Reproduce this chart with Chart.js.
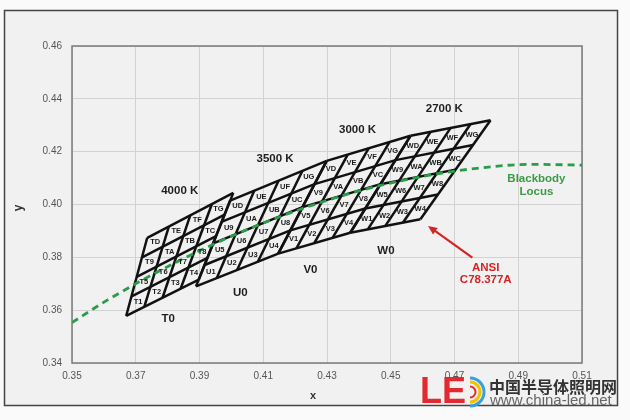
<!DOCTYPE html>
<html lang="zh">
<head>
<meta charset="UTF-8">
<title>ANSI C78.377A</title>
<script src="https://cdn.jsdelivr.net/npm/chart.js"></script>
<style>
    body { margin: 0; background: #fafafa; }
    .box { width: 630px; height: 420px; position: relative; }
</style>
</head>
<body>
<div class="box"><canvas id="ansiChart"></canvas></div>
<script>
    // axis ticks
    const xTicks = [0.35, 0.37, 0.39, 0.41, 0.43, 0.45, 0.47, 0.49, 0.51];
    const yTicks = [0.34, 0.36, 0.38, 0.40, 0.42, 0.44, 0.46];

    // 4000 K quadrangle (T bins), edge division points
    const tTop    = [[0.3736, 0.3874], [0.3804, 0.3917], [0.3871, 0.3959], [0.3939, 0.4002], [0.4006, 0.4044]];
    const tBottom = [[0.3670, 0.3578], [0.3727, 0.3613], [0.3784, 0.3647], [0.3841, 0.3682], [0.3898, 0.3716]];
    const tLeft   = [[0.3670, 0.3578], [0.3687, 0.3652], [0.3703, 0.3726], [0.3720, 0.3800], [0.3736, 0.3874]];
    const tRight  = [[0.3898, 0.3716], [0.3925, 0.3798], [0.3952, 0.3880], [0.3979, 0.3962], [0.4006, 0.4044]];

    // 3500 K quadrangle (U bins)
    const uTop    = [[0.3996, 0.4015], [0.4072, 0.4053], [0.4148, 0.4090], [0.4223, 0.4128], [0.4299, 0.4165]];
    const uBottom = [[0.3889, 0.3690], [0.3954, 0.3721], [0.4018, 0.3752], [0.4083, 0.3783], [0.4147, 0.3814]];
    const uLeft   = [[0.3889, 0.3690], [0.3916, 0.3771], [0.3943, 0.3853], [0.3969, 0.3934], [0.3996, 0.4015]];
    const uRight  = [[0.4147, 0.3814], [0.4185, 0.3902], [0.4223, 0.3990], [0.4261, 0.4077], [0.4299, 0.4165]];

    // 3000 K quadrangle (V bins)
    const vTop    = [[0.4299, 0.4165], [0.4365, 0.4189], [0.4431, 0.4213], [0.4496, 0.4236], [0.4562, 0.4260]];
    const vBottom = [[0.4147, 0.3814], [0.4204, 0.3834], [0.4260, 0.3854], [0.4317, 0.3873], [0.4373, 0.3893]];
    const vLeft   = [[0.4147, 0.3814], [0.4185, 0.3902], [0.4223, 0.3990], [0.4261, 0.4077], [0.4299, 0.4165]];
    const vRight  = [[0.4373, 0.3893], [0.4420, 0.3985], [0.4468, 0.4077], [0.4515, 0.4168], [0.4562, 0.4260]];

    // 2700 K quadrangle (W bins)
    const wTop    = [[0.4562, 0.4260], [0.4625, 0.4275], [0.4688, 0.4290], [0.4750, 0.4304], [0.4813, 0.4319]];
    const wBottom = [[0.4373, 0.3893], [0.4428, 0.3906], [0.4483, 0.3919], [0.4538, 0.3931], [0.4593, 0.3944]];
    const wLeft   = [[0.4373, 0.3893], [0.4420, 0.3985], [0.4468, 0.4077], [0.4515, 0.4168], [0.4562, 0.4260]];
    const wRight  = [[0.4593, 0.3944], [0.4648, 0.4038], [0.4703, 0.4132], [0.4758, 0.4225], [0.4813, 0.4319]];

    // blackbody locus
    const locusX = [0.3500, 0.3608, 0.3805, 0.4053, 0.4369, 0.4599, 0.4770, 0.4937, 0.5100];
    const locusY = [0.3553, 0.3636, 0.3768, 0.3907, 0.4041, 0.4106, 0.4137, 0.4152, 0.4149];

    // labels
    const binPrefix = ['T', 'U', 'V', 'W'];
    const binSuffix = ['1', '2', '3', '4', '5', '6', '7', '8', '9', 'A', 'B', 'C', 'D', 'E', 'F', 'G'];
    const cctNames = ['4000 K', '3500 K', '3000 K', '2700 K'];
    const cctX = [0.3838, 0.4137, 0.4396, 0.4668];
    const cctY = [0.4052, 0.4172, 0.4282, 0.4361];
    const zoneNames = ['T0', 'U0', 'V0', 'W0'];
    const zoneX = [0.3802, 0.4028, 0.4248, 0.4485];
    const zoneY = [0.3566, 0.3665, 0.3752, 0.3824];
    const arrowX = [0.4756, 0.4617];
    const arrowY = [0.3799, 0.3919];

    const quads = [
        { top: tTop, bottom: tBottom, left: tLeft, right: tRight },
        { top: uTop, bottom: uBottom, left: uLeft, right: uRight },
        { top: vTop, bottom: vBottom, left: vLeft, right: vRight },
        { top: wTop, bottom: wBottom, left: wLeft, right: wRight }
    ];

    const pt = p => ({ x: p[0], y: p[1] });

    const datasets = [{
        data: locusX.map((x, i) => ({ x: x, y: locusY[i] })),
        showLine: true,
        borderColor: '#2a9d48',
        borderWidth: 2.8,
        borderDash: [7, 5],
        pointRadius: 0,
        cubicInterpolationMode: 'monotone',
        order: 0
    }];

    quads.forEach(q => {
        for (let i = 0; i < 5; i++) {
            [[q.top[i], q.bottom[i]], [q.left[i], q.right[i]]].forEach(seg => {
                datasets.push({
                    data: seg.map(pt),
                    showLine: true,
                    borderColor: '#111',
                    borderWidth: 2.5,
                    pointRadius: 0,
                    order: 1
                });
            });
        }
    });

    function txt(ctx, s, x, y, font, color, align) {
        ctx.font = font;
        ctx.fillStyle = color;
        ctx.textAlign = align || 'center';
        ctx.textBaseline = 'middle';
        ctx.fillText(s, x, y);
    }

    const decor = {
        id: 'decor',
        beforeDraw(chart) {
            const c = chart.ctx;
            c.save();
            c.fillStyle = '#fafafa';
            c.fillRect(0, 0, chart.width, chart.height);
            c.fillStyle = '#f1f1f1';
            c.fillRect(4.5, 10.5, 613, 395);
            c.strokeStyle = '#454545';
            c.lineWidth = 1.5;
            c.strokeRect(4.5, 10.5, 613, 395);
            c.restore();
        },
        beforeDatasetsDraw(chart) {
            const c = chart.ctx, a = chart.chartArea;
            c.save();
            c.strokeStyle = '#7a7a7a';
            c.lineWidth = 1.5;
            c.strokeRect(a.left, a.top, a.right - a.left, a.bottom - a.top);
            c.restore();
        },
        afterDatasetsDraw(chart) {
            const c = chart.ctx;
            const sx = chart.scales.x, sy = chart.scales.y;
            const px = v => sx.getPixelForValue(v);
            const py = v => sy.getPixelForValue(v);
            c.save();

            // bin labels at cell centres
            quads.forEach((q, qi) => {
                const lb = q.bottom[0], rb = q.bottom[4], lt = q.top[0], rt = q.top[4];
                for (let r = 0; r < 4; r++) {
                    for (let col = 0; col < 4; col++) {
                        const u = (col + 0.5) / 4, v = (r + 0.5) / 4;
                        const w = [(1 - u) * (1 - v), u * (1 - v), (1 - u) * v, u * v];
                        const x = w[0] * lb[0] + w[1] * rb[0] + w[2] * lt[0] + w[3] * rt[0];
                        const y = w[0] * lb[1] + w[1] * rb[1] + w[2] * lt[1] + w[3] * rt[1];
                        txt(c, binPrefix[qi] + binSuffix[r * 4 + col], px(x), py(y),
                            'bold 7.5px "Liberation Sans"', '#1a1a1a');
                    }
                }
            });

            cctNames.forEach((s, i) => txt(c, s, px(cctX[i]), py(cctY[i]), 'bold 11.5px "Liberation Sans"', '#1e1e1e'));
            zoneNames.forEach((s, i) => txt(c, s, px(zoneX[i]), py(zoneY[i]), 'bold 11.5px "Liberation Sans"', '#1e1e1e'));

            txt(c, 'Blackbody', px(0.4957), py(0.4099), 'bold 11.5px "Liberation Sans"', '#3c9b46');
            txt(c, 'Locus', px(0.4957), py(0.4048), 'bold 11.5px "Liberation Sans"', '#3c9b46');
            txt(c, 'ANSI', px(0.4798), py(0.3761), 'bold 11.5px "Liberation Sans"', '#d42424');
            txt(c, 'C78.377A', px(0.4798), py(0.3713), 'bold 11.5px "Liberation Sans"', '#d42424');

            // red arrow
            const x0 = px(arrowX[0]), y0 = py(arrowY[0]), x1 = px(arrowX[1]), y1 = py(arrowY[1]);
            const ang = Math.atan2(y1 - y0, x1 - x0);
            c.strokeStyle = '#d42424';
            c.fillStyle = '#d42424';
            c.lineWidth = 2.2;
            c.beginPath();
            c.moveTo(x0, y0);
            c.lineTo(x1 - 6 * Math.cos(ang), y1 - 6 * Math.sin(ang));
            c.stroke();
            c.beginPath();
            c.moveTo(x1, y1);
            c.lineTo(x1 - 9 * Math.cos(ang) + 4 * Math.sin(ang), y1 - 9 * Math.sin(ang) - 4 * Math.cos(ang));
            c.lineTo(x1 - 9 * Math.cos(ang) - 4 * Math.sin(ang), y1 - 9 * Math.sin(ang) + 4 * Math.cos(ang));
            c.closePath();
            c.fill();

            // axis titles
            txt(c, 'x', 313, 396, 'bold 11px "Liberation Sans"', '#333');
            c.save();
            c.translate(19, 208);
            c.rotate(-Math.PI / 2);
            txt(c, 'y', 0, 0, 'bold 12px "Liberation Sans"', '#333');
            c.restore();

            // site logo
            txt(c, 'LE', 420, 393, 'bold 36px "Liberation Sans"', '#e32a30', 'left');
            c.lineWidth = 3;
            c.strokeStyle = '#3aa0dc';
            c.beginPath(); c.arc(470, 392, 14, -Math.PI / 2, Math.PI / 2); c.stroke();
            c.strokeStyle = '#f2c200';
            c.beginPath(); c.arc(470, 392, 10, -Math.PI / 2, Math.PI / 2); c.stroke();
            c.strokeStyle = '#e32a30';
            c.lineWidth = 2;
            c.beginPath(); c.arc(470, 392, 5.5, -Math.PI / 2, Math.PI / 2); c.stroke();
            txt(c, '中国半导体照明网', 489, 387, 'bold 16px "Noto Sans CJK SC"', '#333', 'left');
            txt(c, 'www.china-led.net', 490, 401, '15px "Liberation Sans"', '#666', 'left');

            c.restore();
        }
    };

    new Chart(document.getElementById('ansiChart'), {
        type: 'scatter',
        data: { datasets: datasets },
        options: {
            responsive: true,
            maintainAspectRatio: false,
            animation: false,
            layout: { padding: { left: 22, right: 48, top: 46, bottom: 17 } },
            plugins: { legend: { display: false }, tooltip: { enabled: false } },
            scales: {
                x: {
                    type: 'linear',
                    min: 0.35,
                    max: 0.51,
                    afterBuildTicks: s => { s.ticks = xTicks.map(v => ({ value: v })); },
                    afterFit: s => { s.height = 40; },
                    ticks: {
                        callback: v => v.toFixed(2),
                        color: '#555',
                        font: { family: 'Liberation Sans', size: 10 },
                        padding: 7,
                        maxRotation: 0
                    },
                    grid: { color: '#d2d2d2', drawTicks: false },
                    border: { display: false }
                },
                y: {
                    type: 'linear',
                    min: 0.34,
                    max: 0.46,
                    afterBuildTicks: s => { s.ticks = yTicks.map(v => ({ value: v })); },
                    afterFit: s => { s.width = 50; },
                    ticks: {
                        callback: v => v.toFixed(2),
                        color: '#555',
                        font: { family: 'Liberation Sans', size: 10 },
                        padding: 10
                    },
                    grid: { color: '#d2d2d2', drawTicks: false },
                    border: { display: false }
                }
            }
        },
        plugins: [decor]
    });
</script>
</body>
</html>
